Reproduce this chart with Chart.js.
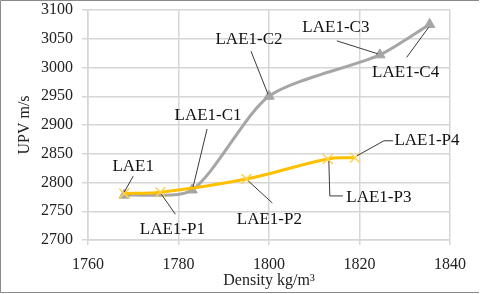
<!DOCTYPE html>
<html>
<head>
<meta charset="utf-8">
<script src="https://cdn.jsdelivr.net/npm/chart.js@4/dist/chart.umd.min.js"></script>
<style>
    html, body { margin: 0; padding: 0; background: #fff; }
    #wrap { width: 480px; height: 294px; position: relative; }
</style>
</head>
<body>
<div id="wrap"><canvas id="upvChart" width="480" height="294"></canvas></div>
<script>
// values
var cDensity = [1768, 1783, 1800, 1824.5, 1835.5];
var cUpv = [2778, 2787, 2950, 3022, 3075];
var cLabels = ["LAE1", "LAE1-C1", "LAE1-C2", "LAE1-C3", "LAE1-C4"];

var pDensity = [1768, 1776, 1795, 1813, 1819];
var pUpv = [2781, 2783, 2806, 2841, 2843];
var pLabels = ["", "LAE1-P1", "LAE1-P2", "LAE1-P3", "LAE1-P4"];

var xTicks = [1760, 1780, 1800, 1820, 1840];
var yTicks = [2700, 2750, 2800, 2850, 2900, 2950, 3000, 3050, 3100];

// where each label sits relative to its point (text centre + leader path)
var cPlacement = [
    { dx: 9, dy: -29, path: [[9, -19], [0, -3]] },
    { dx: 16, dy: -74, path: [[15, -61], [1, -3]] },
    { dx: -20, dy: -57, path: [[-18, -45], [-1, -2]] },
    { dx: -44, dy: -27, path: [[-43, -14], [-2, -1]] },
    { dx: -24, dy: 48, path: [[-23, 33], [-1, 3]] }
];
var pPlacement = [
    null,
    { dx: 12, dy: 37, path: [[15, 22], [1, 2]] },
    { dx: 23, dy: 40, path: [[26, 24], [2, 2]] },
    { dx: 51, dy: 39, path: [[1, 2], [2, 37], [15, 37]] },
    { dx: 72, dy: -17, path: [[2, -2], [29, -17], [38, -17]] }
];

const FONT = "'Liberation Serif', 'Times New Roman', serif";

function toPoints(xs, ys) {
    var pts = [];
    for (var i = 0; i < xs.length; i++) {
        pts.push({ x: xs[i], y: ys[i] });
    }
    return pts;
}

var pointLabels = {
    id: 'pointLabels',
    afterDatasetsDraw: function(chart) {
        var ctx = chart.ctx;
        var sets = [
            { index: 1, labels: cLabels, place: cPlacement },
            { index: 0, labels: pLabels, place: pPlacement }
        ];
        ctx.save();
        ctx.font = "17px " + FONT;
        ctx.fillStyle = '#111';
        ctx.strokeStyle = '#3a3a3a';
        ctx.lineWidth = 1;
        ctx.textAlign = 'center';
        ctx.textBaseline = 'middle';
        sets.forEach(function(s) {
            var meta = chart.getDatasetMeta(s.index);
            meta.data.forEach(function(pt, i) {
                var p = s.place[i];
                if (!p || !s.labels[i]) return;
                ctx.beginPath();
                p.path.forEach(function(q, k) {
                    if (k === 0) ctx.moveTo(pt.x + q[0], pt.y + q[1]);
                    else ctx.lineTo(pt.x + q[0], pt.y + q[1]);
                });
                ctx.stroke();
                ctx.fillText(s.labels[i], pt.x + p.dx, pt.y + p.dy);
            });
        });
        ctx.restore();
    }
};

var frame = {
    id: 'frame',
    afterDraw: function(chart) {
        var ctx = chart.ctx;
        ctx.save();
        ctx.strokeStyle = '#8a8a8a';
        ctx.lineWidth = 1;
        ctx.beginPath();
        ctx.moveTo(479, 0.5);
        ctx.lineTo(0.5, 0.5);
        ctx.lineTo(0.5, 292.5);
        ctx.lineTo(479, 292.5);
        ctx.stroke();
        ctx.restore();
    }
};

function renderChart() {
    var ctx = document.getElementById("upvChart").getContext("2d");

    new Chart(ctx, {
        type: 'line',
        data: {
            datasets: [{
                label: 'P',
                data: toPoints(pDensity, pUpv),
                borderColor: '#ffc000',
                borderWidth: 3,
                fill: false,
                tension: 0.4,
                pointStyle: 'crossRot',
                pointRadius: 7,
                pointBorderWidth: 1.5,
                pointBorderColor: '#ffd34d',
                pointBackgroundColor: '#ffd34d'
            }, {
                label: 'C',
                data: toPoints(cDensity, cUpv),
                borderColor: '#a6a6a6',
                borderWidth: 3,
                fill: false,
                tension: 0.25,
                pointStyle: 'triangle',
                pointRadius: 6,
                pointBorderWidth: 1,
                pointBorderColor: '#a5a5a5',
                pointBackgroundColor: '#a5a5a5'
            }]
        },
        options: {
            responsive: false,
            animation: false,
            layout: {
                padding: 0
            },
            scales: {
                x: {
                    type: 'linear',
                    min: xTicks[0],
                    max: xTicks[xTicks.length - 1],
                    afterBuildTicks: function(scale) {
                        scale.ticks = xTicks.map(v => ({ value: v }));
                    },
                    afterFit: function(scale) {
                        scale.height = 54;
                        scale.paddingLeft = 0;
                        scale.paddingRight = 30;
                    },
                    grid: { color: '#d6d6d6', lineWidth: 1.5, tickLength: 5 },
                    border: { color: '#d6d6d6', width: 1.5 },
                    ticks: {
                        color: '#222',
                        padding: 10,
                        maxRotation: 0,
                        font: { family: FONT, size: 16 },
                        callback: function(value) { return String(value); }
                    },
                    title: {
                        display: true,
                        text: 'Density kg/m³',
                        color: '#222',
                        padding: { top: 0, bottom: 4 },
                        font: { family: FONT, size: 16 }
                    }
                },
                y: {
                    min: yTicks[0],
                    max: yTicks[yTicks.length - 1],
                    afterBuildTicks: function(scale) {
                        scale.ticks = yTicks.map(v => ({ value: v }));
                    },
                    afterFit: function(scale) {
                        scale.width = 88;
                        scale.paddingTop = 10;
                        scale.paddingBottom = 0;
                    },
                    grid: { color: '#d6d6d6', lineWidth: 1.5, tickLength: 6 },
                    border: { color: '#d6d6d6', width: 1.5 },
                    ticks: {
                        color: '#222',
                        padding: 9,
                        font: { family: FONT, size: 16 },
                        callback: function(value) { return String(value); }
                    },
                    title: {
                        display: true,
                        text: 'UPV m/s',
                        color: '#222',
                        padding: { top: 15, bottom: 0 },
                        font: { family: FONT, size: 16 }
                    }
                }
            },
            plugins: {
                legend: { display: false },
                tooltip: { enabled: false }
            }
        },
        plugins: [pointLabels, frame]
    });
}

// make sure the serif face is ready before the canvas uses it
document.fonts.load('16px "Liberation Serif"').then(renderChart, renderChart);
</script>
</body>
</html>
